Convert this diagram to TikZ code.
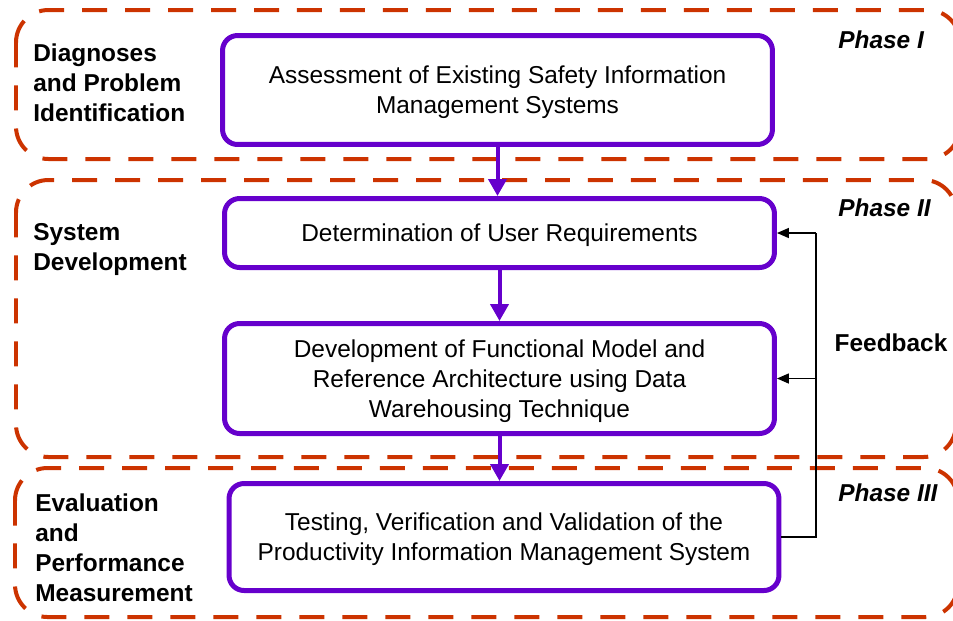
\documentclass[tikz,border=0pt]{standalone}
\usepackage{fontspec}
\setmainfont{Liberation Sans}
\usetikzlibrary{arrows.meta}
\definecolor{phasered}{HTML}{CC3300}
\definecolor{boxpurple}{HTML}{6600CC}
\begin{document}
\begin{tikzpicture}[x=0.02cm, y=-0.02cm,
  every node/.style={font=\fontsize{13.9}{17}\selectfont},
  stagebox/.style={rectangle, draw=boxpurple, line width=0.1cm, rounded corners=0.3cm, align=center, inner sep=0pt, minimum width=11cm, text depth=-3pt},
  phaseframe/.style={draw=phasered, line width=0.08cm, dash pattern=on 0.5cm off 0.36cm, rounded corners=0.65cm},
  sidelabel/.style={anchor=west, align=left, inner sep=0pt, font=\fontsize{13.9}{17}\selectfont\bfseries},
  phaselabel/.style={anchor=west, inner sep=0pt, font=\fontsize{13.9}{17}\selectfont\bfseries\itshape},
  flow/.style={draw=boxpurple, line width=0.08cm, -{Triangle[length=0.34cm, width=0.36cm]}},
  fback/.style={draw=black, line width=0.03cm}]
  \useasboundingbox (0, 0) rectangle (953, 620);
  % Dashed lines
  \draw[phaseframe] (16, 10) rectangle (960, 159);
  \draw[phaseframe] (16, 180) rectangle (956, 457);
  \draw[phaseframe] (15, 468) rectangle (958, 617);
  % Nodes
  \node (ASSESS) [stagebox, minimum height=2.18cm] at (497.5, 90) {Assessment of Existing Safety Information\\Management Systems};
  \node (REQ) [stagebox, minimum height=1.38cm] at (499.5, 233) {Determination of User Requirements};
  \node (DEV) [stagebox, minimum height=2.2cm] at (499.5, 378.5) {Development of Functional Model and\\Reference Architecture using Data\\Warehousing Technique};
  \node (TEST) [stagebox, minimum height=2.14cm] at (504, 537) {Testing, Verification and Validation of the\\Productivity Information Management System};
  % Side labels
  \node (DIAG) [sidelabel] at (33, 83) {Diagnoses\\and Problem\\Identification};
  \node (SYS) [sidelabel] at (33, 249.5) {System\\Development};
  \node (EVAL) [sidelabel] at (35, 548) {Evaluation\\and\\Performance\\Measurement};
  \node (PI) [phaselabel] at (838, 40) {Phase I};
  \node (PII) [phaselabel] at (838, 208) {Phase II};
  \node (PIII) [phaselabel] at (838, 493) {Phase III};
  \node (FBL) [font=\fontsize{13.9}{17}\selectfont\bfseries] at (891, 343) {Feedback};
  % Arrows
  \draw[flow] (ASSESS.south) -- (ASSESS.south |- REQ.north);
  \draw[flow] (REQ.south) -- (DEV.north);
  \draw[flow] (DEV.south) -- (DEV.south |- TEST.north);
  \coordinate (FB) at (816, 537);
  \draw[fback] (TEST.east) -- (FB) -- (FB |- REQ.east);
  \draw[fback, -{Triangle[length=0.24cm, width=0.2cm]}] (FB |- REQ.east) -- (REQ.east);
  \draw[fback, -{Triangle[length=0.24cm, width=0.2cm]}] (FB |- DEV.east) -- (DEV.east);
\end{tikzpicture}
\end{document}
